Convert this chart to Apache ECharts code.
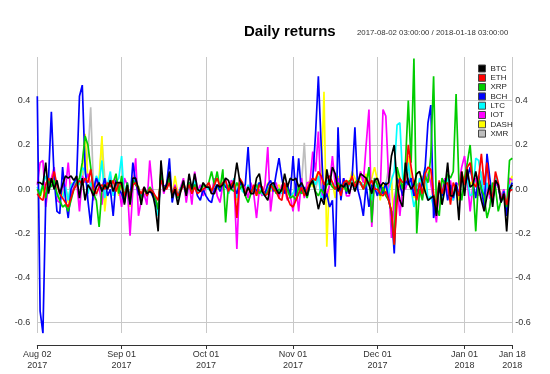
<!DOCTYPE html>
<html>
<head>
<meta charset="utf-8">
<script src="https://cdn.jsdelivr.net/npm/echarts@6/dist/echarts.min.js"></script>
<style>
html,body{margin:0;padding:0;background:#fff;}
#chart{width:550px;height:374px;}
</style>
</head>
<body>
<div id="chart"></div>
<script>
// ---- data (daily returns, 2017-08-02 .. 2018-01-18) ----
const startDate = '2017-08-02';
const nDays = 170;
const seriesNames = ['BTC','ETH','XRP','BCH','LTC','IOT','DASH','XMR'];
const seriesColors = ['#000000','#FF0000','#00CD00','#0000FF','#00FFFF','#FF00FF','#FFFF00','#BEBEBE'];
const tickDates = ['2017-08-02','2017-09-01','2017-10-01','2017-11-01','2017-12-01','2018-01-01','2018-01-18'];
const tickLabels = ['Aug 02\n2017','Sep 01\n2017','Oct 01\n2017','Nov 01\n2017','Dec 01\n2017','Jan 01\n2018','Jan 18\n2018'];
const yTicks = [-0.6,-0.4,-0.2,0.0,0.2,0.4];

const BTC = [
 0.03,0.03,0.02,0.12,-0.02,0.05,0.00,0.04,-0.02,0.02,0.06,0.05,0.06,0.04,0.06,-0.04,0.05,-0.05,0.02,0.00,-0.03,0.01,0.03,-0.01,0.02,0.00,0.04,-0.01,0.03,0.03,
 0.03,-0.07,0.02,-0.07,0.05,0.05,0.00,-0.07,0.01,-0.02,-0.01,-0.02,-0.08,-0.19,0.13,-0.01,0.02,0.08,-0.04,0.00,-0.07,-0.01,0.04,-0.03,0.07,0.00,0.07,0.00,-0.01,0.03,
 0.01,0.01,-0.02,-0.02,0.02,0.01,0.02,0.05,0.04,0.00,0.03,0.12,0.04,0.02,-0.03,0.01,-0.02,-0.02,0.05,0.07,-0.01,-0.03,-0.05,0.02,0.03,0.00,-0.02,0.00,0.07,0.01,0.05,
 0.04,0.05,0.01,0.03,0.00,-0.03,0.02,0.04,-0.02,-0.09,-0.04,-0.07,0.09,0.02,0.10,0.07,-0.01,0.02,0.01,0.03,-0.02,0.03,-0.01,0.03,0.07,0.06,0.05,0.02,-0.02,0.04,
 0.05,0.01,0.03,0.02,0.03,0.15,0.20,0.02,-0.05,-0.08,0.12,0.03,0.00,0.02,0.07,0.08,0.03,-0.01,-0.05,-0.04,-0.03,-0.12,0.03,-0.07,0.00,0.12,-0.03,-0.03,0.02,-0.14,0.08,
 -0.03,0.09,0.01,0.02,0.08,0.01,-0.05,-0.10,-0.03,0.02,-0.08,0.04,0.02,-0.06,-0.02,-0.19,0.00,0.02
];
const ETH = [
 -0.02,-0.04,-0.05,0.02,0.05,0.03,0.08,0.02,-0.02,-0.04,-0.06,-0.08,-0.04,0.00,0.02,0.04,0.02,0.05,0.03,0.09,0.00,-0.02,0.01,0.02,0.00,0.03,0.01,0.04,-0.01,0.03,
 0.02,-0.03,0.01,-0.04,0.02,0.03,0.00,-0.02,0.01,-0.03,0.00,-0.01,-0.03,-0.05,0.04,0.01,0.00,0.03,-0.02,0.01,-0.03,-0.01,0.02,-0.01,0.02,-0.02,0.01,-0.02,-0.01,0.00,
 0.01,0.03,-0.01,0.02,0.05,0.01,0.03,0.04,-0.01,0.02,0.04,-0.13,0.05,0.03,-0.02,0.01,-0.02,0.02,-0.03,0.02,0.01,-0.03,-0.02,0.02,0.00,-0.01,-0.04,-0.05,0.03,-0.04,-0.07,
 -0.08,-0.05,-0.02,0.01,-0.03,0.00,0.03,0.05,0.04,0.08,0.06,0.02,0.05,0.06,0.03,0.00,0.02,-0.03,0.03,0.04,0.02,0.06,0.01,0.04,0.03,0.00,0.05,0.02,0.04,0.00,
 0.00,-0.02,-0.03,-0.01,-0.05,-0.10,-0.25,-0.06,0.05,0.03,0.04,0.20,0.10,0.02,-0.05,0.03,-0.02,0.07,0.10,0.09,-0.02,-0.08,0.04,-0.02,0.02,0.03,-0.07,0.03,0.00,-0.03,0.08,
 0.02,0.10,0.12,0.03,0.01,0.05,0.16,0.02,0.12,-0.02,-0.04,0.08,0.03,-0.05,-0.02,-0.07,-0.01,0.00
];
const XRP = [
 0.00,-0.03,0.02,-0.04,0.05,0.01,0.04,-0.02,-0.05,-0.08,-0.07,-0.10,-0.05,0.00,0.03,0.05,0.12,0.24,0.20,0.10,-0.02,-0.05,-0.17,0.00,0.02,0.01,0.04,0.03,0.07,-0.02,
 0.06,-0.04,0.03,-0.06,0.04,0.02,0.01,-0.05,0.00,-0.02,0.01,-0.01,-0.04,-0.09,0.08,0.00,0.01,0.05,-0.03,0.01,-0.04,0.00,0.03,-0.02,0.03,-0.01,0.02,0.00,-0.01,0.02,
 0.01,0.03,0.08,0.02,0.08,0.00,0.09,-0.15,0.02,0.00,-0.01,0.03,0.00,0.02,-0.03,-0.06,-0.02,0.01,0.02,-0.02,0.00,-0.03,-0.01,0.02,0.01,-0.02,0.00,-0.01,0.02,0.00,-0.04,
 -0.03,-0.05,0.01,-0.02,0.00,-0.04,0.02,0.03,-0.01,-0.03,0.00,-0.02,0.02,0.03,0.01,0.00,0.03,0.01,0.02,-0.01,0.04,0.02,0.03,0.04,0.03,0.00,0.02,0.10,-0.15,0.05,
 0.02,-0.03,0.01,-0.03,-0.05,-0.10,-0.25,0.10,0.05,0.00,0.12,0.40,0.12,0.59,-0.20,0.00,-0.05,0.06,0.03,0.15,0.51,-0.08,-0.12,0.05,0.02,0.07,0.05,0.08,0.43,0.03,-0.05,
 0.05,0.12,0.20,0.03,-0.19,0.05,0.00,-0.03,-0.13,-0.08,0.03,0.01,-0.10,-0.05,-0.04,-0.08,0.13,0.14
];
const BCH = [
 0.42,-0.55,-0.65,-0.05,0.05,0.35,0.05,-0.10,-0.11,0.10,-0.04,-0.13,0.00,0.03,0.05,0.42,0.47,0.10,-0.05,-0.16,0.00,0.05,0.02,0.00,0.05,-0.03,0.00,-0.12,0.04,0.00,
 -0.02,-0.06,0.03,-0.05,0.12,0.03,-0.02,-0.04,0.01,-0.03,0.00,-0.03,-0.05,-0.09,0.06,0.01,0.02,0.14,-0.06,0.01,-0.04,0.00,0.02,-0.02,0.03,-0.01,0.02,-0.03,-0.05,0.00,
 -0.03,-0.05,-0.06,0.00,0.02,-0.01,0.03,0.01,0.00,0.02,0.01,-0.02,0.03,0.01,0.02,0.19,-0.02,0.01,-0.01,0.03,0.00,-0.02,0.02,0.04,-0.01,0.07,0.14,0.05,-0.02,0.02,-0.03,
 0.15,-0.03,0.14,-0.02,0.01,-0.03,0.02,0.05,0.25,0.51,0.20,-0.05,-0.02,-0.08,-0.05,-0.35,0.28,-0.05,0.05,-0.02,0.03,0.05,0.28,0.00,-0.05,-0.12,0.02,-0.08,0.02,0.01,
 -0.03,0.02,-0.02,0.03,-0.05,-0.10,-0.29,0.05,0.02,-0.03,0.04,0.02,0.05,-0.03,0.00,-0.02,0.03,0.10,0.30,0.38,-0.13,-0.05,0.00,-0.03,0.04,-0.05,0.02,-0.04,0.03,-0.03,0.05,
 0.02,0.05,0.10,0.03,-0.04,0.06,0.00,-0.08,0.16,0.05,-0.05,0.04,0.02,-0.06,-0.01,-0.12,0.00,0.03
];
const LTC = [
 0.01,-0.02,0.03,0.06,0.00,0.02,0.03,-0.03,-0.02,-0.04,0.01,-0.05,0.02,0.03,0.04,0.02,0.10,0.08,-0.02,0.03,0.00,0.06,0.03,0.13,-0.04,0.02,0.08,-0.03,0.03,0.05,
 0.15,-0.05,0.02,-0.07,0.05,0.03,0.00,-0.05,0.01,-0.02,0.00,-0.01,-0.05,-0.12,0.07,0.00,0.02,0.05,-0.02,0.01,-0.03,0.00,0.03,-0.02,0.02,-0.01,0.04,-0.01,0.00,0.02,
 0.01,0.00,-0.01,0.02,0.01,0.00,0.03,0.02,-0.02,0.01,0.05,-0.04,0.04,-0.01,-0.02,0.02,-0.01,0.00,0.01,0.03,-0.02,-0.03,0.01,0.00,0.02,-0.01,0.00,-0.02,0.02,-0.01,-0.03,
 -0.02,0.01,-0.03,0.02,0.00,-0.01,0.03,0.05,0.02,0.06,-0.04,-0.03,0.04,0.02,0.03,0.01,0.00,0.02,0.03,-0.01,0.02,0.04,0.00,0.05,0.03,0.02,0.01,0.04,-0.05,0.02,
 0.01,0.02,-0.01,0.03,-0.02,0.04,0.08,0.29,0.30,0.05,0.02,0.12,0.00,-0.08,-0.03,0.05,0.02,0.10,-0.05,-0.03,-0.08,-0.04,0.03,-0.06,0.02,0.05,-0.02,-0.05,0.01,-0.03,0.06,
 0.03,0.05,-0.03,-0.02,0.14,0.13,0.05,-0.04,0.03,-0.02,-0.06,0.06,0.02,-0.05,-0.01,-0.10,0.02,0.00
];
const IOT = [
 0.02,0.12,0.13,-0.08,0.02,0.05,0.10,-0.05,-0.06,0.02,0.00,0.12,-0.03,0.01,0.04,-0.10,0.06,0.03,0.07,0.02,-0.05,0.05,0.01,-0.07,0.04,0.00,0.06,-0.02,0.05,0.01,
 -0.08,0.05,0.02,-0.21,0.00,0.14,-0.12,-0.05,-0.02,-0.07,0.13,0.00,-0.04,-0.10,0.06,-0.02,0.03,0.04,-0.02,0.02,-0.03,0.01,0.05,-0.06,0.03,-0.07,0.08,-0.01,0.02,-0.03,
 0.01,0.03,-0.02,0.05,-0.03,-0.06,0.02,0.05,-0.02,0.04,0.03,-0.27,0.04,0.02,0.01,-0.04,0.03,-0.02,-0.13,0.00,-0.03,0.02,0.19,-0.10,0.01,0.03,-0.04,0.02,0.00,-0.05,-0.03,
 -0.10,0.02,-0.10,0.05,-0.04,0.03,0.03,0.17,0.08,0.26,-0.05,0.03,-0.03,0.02,0.15,0.02,0.05,0.00,0.05,-0.03,-0.03,0.04,0.01,0.02,0.08,0.03,0.20,0.36,-0.17,0.05,
 0.02,-0.02,0.36,0.33,0.05,-0.22,-0.05,0.03,-0.12,0.02,0.00,0.05,0.03,-0.03,0.02,0.01,-0.04,0.04,0.07,0.03,-0.05,-0.15,0.02,-0.03,0.05,-0.02,0.04,-0.05,0.03,0.02,0.10,
 0.15,0.04,-0.10,0.02,0.05,-0.03,0.04,-0.06,0.02,-0.04,-0.05,0.03,0.01,-0.04,0.00,-0.08,0.05,0.04
];
const DASH = [
 0.00,-0.04,0.01,-0.05,0.04,0.02,0.05,-0.03,-0.04,-0.02,0.00,-0.06,0.03,0.02,0.04,0.03,0.08,0.25,0.05,0.02,-0.02,0.03,0.05,0.24,-0.10,0.03,0.04,0.00,0.02,-0.03,
 0.04,-0.06,0.02,-0.08,0.06,0.03,0.01,-0.05,0.00,-0.02,0.01,-0.02,-0.05,-0.11,0.09,0.00,0.02,0.06,-0.03,0.06,-0.02,0.00,0.03,-0.01,0.02,-0.01,0.03,0.00,-0.01,0.02,
 0.01,0.02,-0.01,0.03,0.00,0.01,0.02,0.03,-0.01,0.01,0.03,-0.05,0.02,0.00,-0.02,0.01,-0.02,0.01,-0.03,0.02,0.00,-0.02,0.03,-0.01,0.00,0.01,0.02,-0.02,0.01,0.00,-0.02,
 -0.03,0.02,0.01,0.03,-0.01,0.02,0.04,0.01,0.05,0.08,0.02,0.44,-0.26,0.05,0.03,-0.04,0.06,0.02,0.00,0.04,0.03,0.08,0.05,0.02,0.06,0.03,0.07,0.02,0.05,0.10,
 0.04,-0.05,0.02,-0.01,0.03,0.05,-0.20,0.08,0.03,-0.02,0.05,0.15,0.05,-0.04,0.02,0.03,0.06,-0.02,0.08,0.04,-0.06,-0.08,0.03,-0.04,0.03,0.05,-0.03,-0.02,0.02,-0.05,0.07,
 0.03,0.06,0.02,0.04,0.02,0.05,0.01,-0.06,0.02,-0.03,-0.05,0.03,0.02,-0.04,-0.01,-0.12,0.03,0.06
];
const XMR = [
 0.01,-0.03,0.02,0.03,0.01,0.03,0.02,-0.02,-0.03,-0.01,0.01,-0.04,0.02,0.02,0.04,0.02,0.05,0.10,0.15,0.37,0.00,-0.03,0.02,0.22,0.05,0.02,0.05,-0.02,0.03,0.01,
 0.03,-0.05,0.02,-0.07,0.04,0.02,0.00,-0.04,0.01,-0.02,0.00,-0.02,-0.04,-0.10,0.08,0.01,0.01,0.04,-0.02,0.01,-0.03,0.00,0.02,-0.02,0.03,0.00,0.03,0.00,-0.01,0.01,
 0.02,0.01,-0.01,0.02,0.01,0.00,0.02,0.03,-0.01,0.01,0.04,-0.03,0.03,0.01,-0.02,0.01,-0.01,0.00,0.02,0.03,-0.01,-0.02,0.01,0.00,0.02,0.00,0.01,-0.02,0.02,0.00,-0.02,
 -0.02,0.01,0.00,0.02,0.21,-0.03,0.02,0.04,0.00,0.05,0.02,-0.04,0.03,0.05,0.02,0.01,0.03,0.00,0.02,0.01,0.03,0.04,0.02,0.03,0.02,0.01,0.04,0.03,-0.03,0.04,
 0.03,-0.02,0.01,0.02,0.10,0.04,-0.15,0.06,0.02,-0.01,0.03,0.08,0.04,-0.03,0.02,0.03,0.05,0.00,0.06,0.03,-0.05,-0.07,0.02,-0.03,0.02,0.06,-0.02,-0.03,0.01,-0.04,0.06,
 0.02,0.04,0.03,0.02,0.03,0.04,0.08,-0.03,0.02,-0.02,-0.04,0.03,0.01,-0.03,0.00,-0.11,0.02,0.04
];
const seriesValues = [BTC, ETH, XRP, BCH, LTC, IOT, DASH, XMR];

// ---- categories (dates) ----
const dates = [];
{
  const t0 = Date.UTC(2017, 7, 2);
  for (let i = 0; i < nDays; i++) {
    const d = new Date(t0 + i * 86400000);
    dates.push(d.toISOString().slice(0, 10));
  }
}
const tickSet = {};
tickDates.forEach((d, k) => { tickSet[d] = tickLabels[k]; });
const isTick = (idx) => tickSet[dates[idx]] !== undefined;

const FONT = '"Liberation Sans", Arial, Helvetica, sans-serif';
const chart = echarts.init(document.getElementById('chart'), null, { renderer: 'canvas' });

const series = [];
for (let k = seriesNames.length - 1; k >= 0; k--) {
  series.push({
    name: seriesNames[k],
    type: 'line',
    data: seriesValues[k],
    showSymbol: false,
    symbol: 'none',
    color: seriesColors[k],
    lineStyle: { width: 1.7, color: seriesColors[k] },
    z: 10 + (seriesNames.length - k),
    animation: false
  });
}

const yLabelFmt = (v) => (Math.abs(v) < 1e-9 ? '0.0' : v.toFixed(1));

chart.setOption({
  animation: false,
  backgroundColor: '#ffffff',
  textStyle: { fontFamily: FONT },
  title: [
    { text: 'Daily returns', left: 244, top: 24, padding: 0,
      textStyle: { fontFamily: FONT, fontSize: 15, fontWeight: 'bold', color: '#000' } },
    { text: '2017-08-02 03:00:00 / 2018-01-18 03:00:00', left: 357, top: 29, padding: 0,
      textStyle: { fontFamily: FONT, fontSize: 7.8, fontWeight: 'normal', color: '#333' } }
  ],
  legend: {
    orient: 'vertical',
    left: 473,
    top: 59,
    itemWidth: 7,
    itemHeight: 7,
    itemGap: 0.3,
    icon: 'rect',
    itemStyle: { borderColor: '#444', borderWidth: 1 },
    textStyle: { fontFamily: FONT, fontSize: 8, color: '#222', lineHeight: 9 },
    data: seriesNames.map((n) => ({ name: n, icon: 'rect' }))
  },
  grid: { left: 37.3, right: 37.7, top: 57, bottom: 41, containLabel: false },
  xAxis: {
    type: 'category',
    data: dates,
    boundaryGap: false,
    offset: 12,
    axisLine: { show: true, onZero: false, lineStyle: { color: '#333', width: 1 } },
    axisTick: { show: true, length: 4, interval: (i) => isTick(i), lineStyle: { color: '#333' } },
    axisLabel: {
      show: true, interval: (i) => isTick(i), margin: 4,
      formatter: (v) => tickSet[v] || '',
      fontFamily: FONT, fontSize: 9, lineHeight: 11, color: '#333'
    },
    splitLine: { show: true, interval: (i) => isTick(i), lineStyle: { color: '#c8c8c8', width: 1 } }
  },
  yAxis: [
    {
      type: 'value', min: -0.649, max: 0.597, position: 'left',
      axisLine: { show: false },
      axisTick: { show: false, customValues: yTicks },
      axisLabel: { customValues: yTicks, formatter: yLabelFmt, margin: 7,
        fontFamily: FONT, fontSize: 9, color: '#333' },
      splitLine: { show: true, lineStyle: { color: '#c8c8c8', width: 1 } }
    },
    {
      type: 'value', min: -0.649, max: 0.597, position: 'right',
      axisLine: { show: false },
      axisTick: { show: false, customValues: yTicks },
      axisLabel: { customValues: yTicks, formatter: yLabelFmt, margin: 3,
        fontFamily: FONT, fontSize: 9, color: '#333' },
      splitLine: { show: false }
    }
  ],
  series: series
});
</script>
</body>
</html>
